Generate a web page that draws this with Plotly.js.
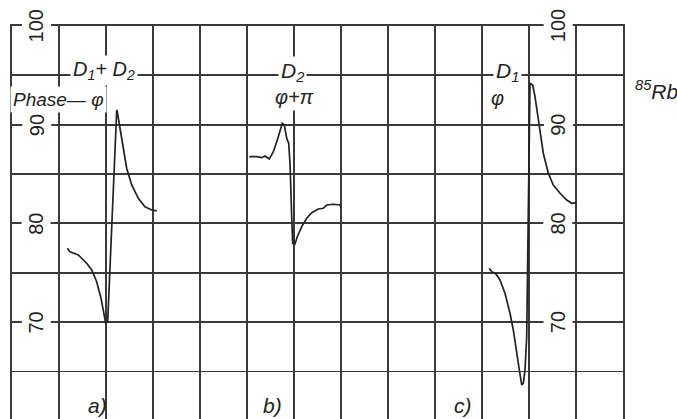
<!DOCTYPE html>
<html>
<head>
<meta charset="utf-8">
<script src="https://cdn.plot.ly/plotly-3.0.1.min.js"></script>
<style>html,body{margin:0;padding:0;background:#fff;}#chart{width:677px;height:419px;}</style>
</head>
<body>
<div id="chart"></div>
<script>
// Curve a) D1 + D2, phase φ
const xA = [1.177, 1.234, 1.411, 1.589, 1.696, 1.802, 1.894, 1.964, 1.994, 2.036, 2.228, 2.240, 2.298, 2.368, 2.440, 2.547, 2.687, 2.830, 2.972, 3.079];
const yA = [77.48, 77.13, 76.80, 75.96, 75.28, 74.09, 72.41, 70.71, 69.87, 70.04, 91.49, 91.32, 89.64, 87.61, 85.59, 83.89, 82.54, 81.69, 81.36, 81.26];
// Curve b) D2, phase φ+π
const xB = [5.049, 5.206, 5.313, 5.383, 5.474, 5.560, 5.645, 5.717, 5.751, 5.794, 5.845, 5.887, 5.915, 5.951, 5.972, 6.021, 6.070, 6.164, 6.270, 6.377, 6.517, 6.623, 6.696, 6.836, 6.979, 7.000];
const yB = [86.76, 86.76, 86.66, 86.83, 86.52, 87.26, 88.45, 89.80, 90.14, 89.97, 88.62, 88.12, 86.09, 80.68, 77.98, 77.91, 78.65, 79.67, 80.52, 81.08, 81.46, 81.53, 81.86, 81.94, 81.86, 81.63];
// Curve c) D1, phase φ
const xC = [10.155, 10.206, 10.298, 10.383, 10.489, 10.596, 10.666, 10.738, 10.794, 10.845, 10.879, 10.915, 10.951, 11.021, 11.079, 11.128, 11.177, 11.234, 11.304, 11.411, 11.517, 11.660, 11.802, 11.909, 12.015];
const yC = [75.45, 75.11, 74.87, 74.27, 72.92, 70.89, 69.20, 67.17, 65.15, 63.63, 63.80, 65.15, 68.52, 94.19, 94.02, 92.84, 91.16, 89.13, 87.11, 85.08, 83.89, 83.05, 82.37, 82.04, 82.10];

const tickLabels = ['100', '90', '80', '70', '60'];
const tickValues = [100, 90, 80, 70, 60];
const panelLabels = ['a)', 'b)', 'c)'];

const ink = '#222';
const FONT = 'Liberation Sans, Arial, sans-serif';

const curve = (x, y) => ({x, y, type: 'scatter', mode: 'lines', line: {color: ink, width: 1.7}, hoverinfo: 'skip'});
const data = [curve(xA, yA), curve(xB, yB), curve(xC, yC)];

const annotations = [];
// rotated scale numbers, left and right
[0.52, 11.62].forEach(xp => {
  tickLabels.forEach((t, i) => {
    annotations.push({xref: 'x', yref: 'y', x: xp, y: tickValues[i], text: t, showarrow: false,
      textangle: -90, bgcolor: '#fff', borderpad: 3,
      font: {family: FONT, size: 20, color: ink}});
  });
});
const txt = (px, py, text, size) => ({xref: 'paper', yref: 'paper', x: px / 677, y: 1 - py / 419,
  text: '<i>' + text + '</i>', showarrow: false, xanchor: 'center', yanchor: 'middle',
  bgcolor: '#fff', borderpad: 2, font: {family: FONT, size: size, color: ink}});
annotations.push(txt(104, 71, 'D<sub>1</sub>+ D<sub>2</sub>', 20));
annotations.push(txt(58, 99, 'Phase— φ', 19));
annotations.push(txt(292, 72, 'D<sub>2</sub>', 21));
annotations.push(txt(294, 97, 'φ+π', 20));
annotations.push(txt(507, 72, 'D<sub>1</sub>', 21));
annotations.push(txt(497, 98, 'φ', 20));
const rb = txt(657, 90, '<sup>85</sup>Rb', 21);
rb.bgcolor = 'rgba(0,0,0,0)';
annotations.push(rb);
[97, 272, 463].forEach((px, i) => {
  const a = txt(px, 405, panelLabels[i], 21);
  a.bgcolor = 'rgba(0,0,0,0)';
  annotations.push(a);
});

const layout = {
  width: 677, height: 419,
  margin: {l: 0, r: 0, t: 0, b: 0},
  paper_bgcolor: '#fff', plot_bgcolor: '#fff',
  showlegend: false,
  xaxis: {domain: [12 / 677, 623 / 677], range: [0, 13], dtick: 1, tick0: 0,
    showgrid: true, gridcolor: '#3a3a3a', gridwidth: 1.8, zeroline: false,
    showticklabels: false, ticks: '', side: 'top', showline: true, linecolor: '#3a3a3a', linewidth: 1.8},
  yaxis: {domain: [0, 393 / 419], range: [60.18, 100], dtick: 5, tick0: 0,
    showgrid: true, gridcolor: '#3a3a3a', gridwidth: 1.8, zeroline: false,
    showticklabels: false, ticks: '', showline: true, mirror: true, linecolor: '#3a3a3a', linewidth: 1.8},
  annotations: annotations
};

Plotly.newPlot('chart', data, layout, {staticPlot: true, displayModeBar: false});
</script>
</body>
</html>
